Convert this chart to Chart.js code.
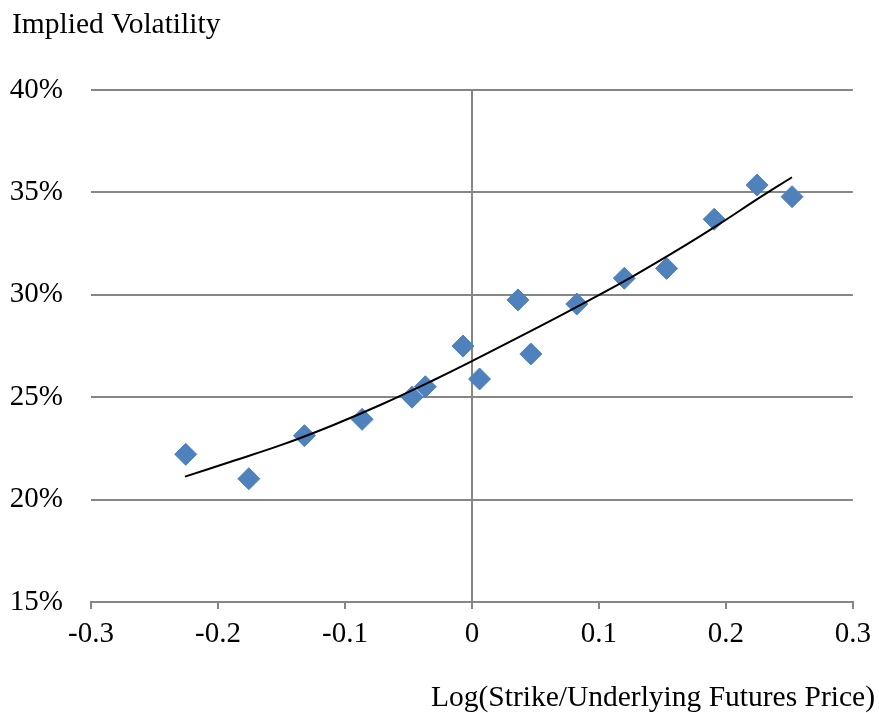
<!DOCTYPE html>
<html>
<head>
<meta charset="utf-8">
<script src="https://cdn.jsdelivr.net/npm/chart.js@4/dist/chart.umd.min.js"></script>
<style>
  html, body { margin: 0; padding: 0; background: #ffffff; }
  canvas { display: block; }
</style>
</head>
<body>
<canvas id="c" width="879" height="713"></canvas>
<script>
// Observed implied volatilities
const logMoneyness = [-0.2254, -0.1757, -0.1319, -0.0865, -0.0472, -0.0367, -0.0071, 0.0060,
                      0.0362, 0.0464, 0.0826, 0.1200, 0.1533, 0.1908, 0.2246, 0.2521];
const impliedVolPct = [22.21, 21.02, 23.12, 23.92, 25.00, 25.51, 27.50, 25.89,
                       29.75, 27.11, 29.55, 30.81, 31.29, 33.69, 35.36, 34.79];

// Trendline
const trendX = [-0.226, -0.19, -0.15, -0.11, -0.07, -0.03, 0, 0.05, 0.09, 0.125, 0.165, 0.195, 0.225, 0.252];
const trendY = [21.12, 21.85, 22.67, 23.62, 24.68, 25.84, 26.76, 28.35, 29.66, 30.84, 32.30, 33.46, 34.68, 35.74];

// Axis settings / labels
const xTicks = [-0.3, -0.2, -0.1, 0, 0.1, 0.2, 0.3];
const yTicks = [15, 20, 25, 30, 35, 40];
const yTitle = 'Implied Volatility';
const xTitle = 'Log(Strike/Underlying Futures Price)';

const FONT = '"Liberation Serif", "Times New Roman", Times, serif';
const GRID = '#868686';
const MARK = '#4F81BD';

Chart.defaults.font.family = FONT;
Chart.defaults.font.size = 29;
Chart.defaults.color = '#000000';

const scatterPts = logMoneyness.map((x, i) => ({ x: x, y: impliedVolPct[i] }));
const trendPts = trendX.map((x, i) => ({ x: x, y: trendY[i] }));

const titlesPlugin = {
  id: 'titles',
  afterDraw(chart) {
    const ctx = chart.ctx;
    ctx.save();
    ctx.fillStyle = '#000000';
    ctx.font = '29.5px ' + FONT;
    ctx.textBaseline = 'alphabetic';
    ctx.textAlign = 'left';
    ctx.fillText(yTitle, 12, 33);
    ctx.textAlign = 'right';
    ctx.fillText(xTitle, 875, 706);
    ctx.restore();
  }
};

new Chart(document.getElementById('c'), {
  type: 'scatter',
  data: {
    datasets: [
      {
        label: 'Trend',
        data: trendPts,
        showLine: true,
        borderColor: '#000000',
        borderWidth: 2,
        pointRadius: 0,
        fill: false,
        tension: 0.4,
        order: 0
      },
      {
        label: 'Implied Volatility',
        data: scatterPts,
        pointStyle: 'rectRot',
        pointRadius: 11,
        pointBackgroundColor: MARK,
        pointBorderColor: MARK,
        pointBorderWidth: 1,
        showLine: false,
        order: 1
      }
    ]
  },
  options: {
    responsive: false,
    animation: false,
    layout: { autoPadding: false, padding: { left: 0, right: 25, top: 90, bottom: 0 } },
    plugins: {
      legend: { display: false },
      tooltip: { enabled: false },
      title: { display: false }
    },
    scales: {
      x: {
        type: 'linear',
        min: -0.3,
        max: 0.3,
        afterBuildTicks(scale) { scale.ticks = xTicks.map(v => ({ value: v })); },
        afterFit(scale) { scale.height = 111; },
        border: { display: true, color: GRID, width: 2 },
        grid: {
          display: true,
          drawOnChartArea: true,
          drawTicks: true,
          tickLength: 7,
          tickWidth: 2,
          tickColor: GRID,
          lineWidth: 2,
          color: (ctx) => (ctx.tick && Math.abs(ctx.tick.value) < 1e-9) ? GRID : 'rgba(0,0,0,0)'
        },
        ticks: {
          padding: 8,
          maxRotation: 0,
          autoSkip: false,
          callback: (v) => {
            const r = Math.round(v * 10) / 10;
            return r === 0 ? '0' : String(r);
          }
        }
      },
      y: {
        type: 'linear',
        min: 15,
        max: 40,
        afterBuildTicks(scale) { scale.ticks = yTicks.map(v => ({ value: v })); },
        afterFit(scale) { scale.width = 91; },
        border: { display: false },
        grid: {
          display: true,
          drawTicks: false,
          color: GRID,
          lineWidth: 2
        },
        ticks: {
          padding: 28,
          autoSkip: false,
          callback: (v) => v + '%'
        }
      }
    }
  },
  plugins: [titlesPlugin]
});
</script>
</body>
</html>
